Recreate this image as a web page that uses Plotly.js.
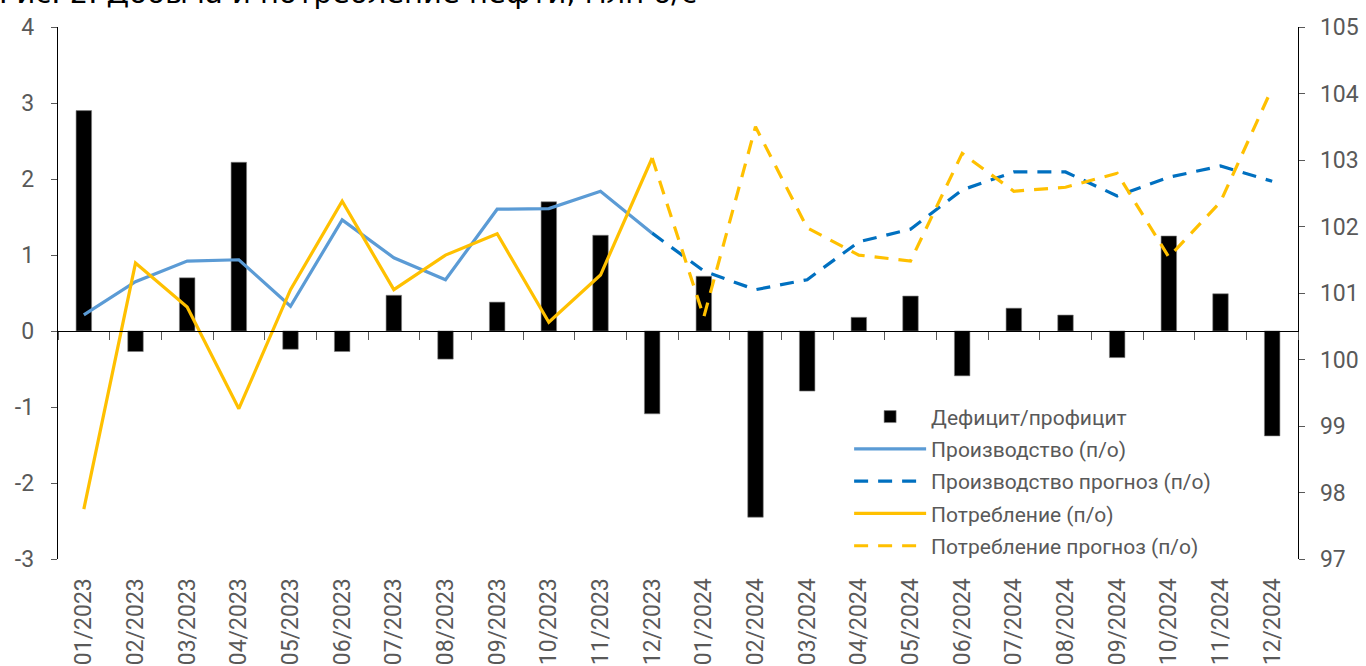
<!DOCTYPE html>
<html>
<head>
<meta charset="utf-8">
<script src="https://cdn.plot.ly/plotly-3.0.1.min.js"></script>
<style>html,body{margin:0;padding:0;background:#fff;}#chart{width:1366px;height:666px;}</style>
</head>
<body>
<div id="chart"></div>
<script>
const months = ["01/2023","02/2023","03/2023","04/2023","05/2023","06/2023","07/2023","08/2023","09/2023","10/2023","11/2023","12/2023",
                "01/2024","02/2024","03/2024","04/2024","05/2024","06/2024","07/2024","08/2024","09/2024","10/2024","11/2024","12/2024"];
const balance = [2.9,-0.27,0.70,2.22,-0.24,-0.27,0.47,-0.37,0.38,1.70,1.26,-1.09,
                 0.72,-2.45,-0.79,0.18,0.46,-0.59,0.30,0.21,-0.35,1.25,0.49,-1.38];
const production = [100.67,101.17,101.48,101.50,100.80,102.10,101.53,101.20,102.26,102.27,102.53,101.90,
                    null,null,null,null,null,null,null,null,null,null,null,null];
const productionForecast = [null,null,null,null,null,null,null,null,null,null,null,101.90,
                    101.33,101.05,101.20,101.77,101.96,102.55,102.82,102.82,102.46,102.74,102.91,102.68];
const consumption = [97.75,101.45,100.79,99.26,101.05,102.38,101.05,101.57,101.89,100.56,101.27,103.03,
                    null,null,null,null,null,null,null,null,null,null,null,null];
const consumptionForecast = [null,null,null,null,null,null,null,null,null,null,null,103.03,
                    100.64,103.50,101.98,101.57,101.48,103.10,102.53,102.59,102.80,101.54,102.37,104.08];
const names = ["Дефицит/профицит","Производство (п/о)","Производство прогноз (п/о)","Потребление (п/о)","Потребление прогноз (п/о)"];
const leftTicks = [-3,-2,-1,0,1,2,3,4];
const leftTickText = ["-3","-2","-1","0","1","2","3","4"];
const rightTicks = [97,98,99,100,101,102,103,104,105];
const titleText = "Рис. 2. Добыча и потребление нефти, млн б/с";

const FONT = "Roboto, 'Noto Sans', sans-serif";
const GREY = "#595959";

const traces = [
  {type:"bar", x:months, y:balance, name:names[0], legendgroup:"g0", xaxis:"x2", yaxis:"y",
   marker:{color:"#000000", line:{color:"#7f7f7f", width:0.6}}, width:0.3},
  {type:"scatter", mode:"lines", x:months, y:production, name:names[1], legendgroup:"g1", xaxis:"x2", yaxis:"y2",
   line:{color:"#5B9BD5", width:3.2}},
  {type:"scatter", mode:"lines", x:months, y:productionForecast, name:names[2], legendgroup:"g2", xaxis:"x2", yaxis:"y2",
   line:{color:"#0070C0", width:3.2, dash:"14px,10px"}},
  {type:"scatter", mode:"lines", x:months, y:consumption, name:names[3], legendgroup:"g3", xaxis:"x2", yaxis:"y2",
   line:{color:"#FFC000", width:3.2}},
  {type:"scatter", mode:"lines", x:months, y:consumptionForecast, name:names[4], legendgroup:"g4", xaxis:"x2", yaxis:"y2",
   line:{color:"#FFC000", width:3.2, dash:"14px,10px"}},
  {type:"scatter", mode:"lines", x:months, y:months.map(()=>null), xaxis:"x", yaxis:"y",
   showlegend:false, hoverinfo:"skip"}
];

const layout = {
  width:1366, height:666,
  paper_bgcolor:"#fff", plot_bgcolor:"#fff",
  margin:{l:58, r:68, t:27, b:107, pad:0},
  font:{family:FONT, size:21, color:GREY},
  annotations:[{text:titleText, xref:"paper", yref:"paper", x:-0.049, y:1.063, xanchor:"left", yanchor:"middle",
                showarrow:false, font:{family:"'DejaVu Sans', sans-serif", size:29, color:"#000"}}],
  showlegend:true,
  legend:{x:0.638, y:0.3056, xanchor:"left", yanchor:"top", bgcolor:"rgba(255,255,255,0)",
          font:{family:FONT, size:21, color:GREY}, tracegroupgap:2, itemwidth:72, traceorder:"grouped"},
  bargap:0.7,
  xaxis:{type:"category", categoryorder:"array", categoryarray:months, range:[-0.5,23.5],
         showline:false, showgrid:false, zeroline:false, ticks:"outside", ticklen:9, tickcolor:"rgba(0,0,0,0)",
         tickangle:-90, tickfont:{family:FONT, size:23, color:GREY}, anchor:"y", side:"bottom"},
  xaxis2:{type:"category", categoryorder:"array", categoryarray:months, range:[-0.5,23.5], overlaying:"x",
          anchor:"free", position:3/7, showline:true, linecolor:"#000", linewidth:1.3,
          ticks:"outside", tickson:"boundaries", ticklen:8, tickcolor:"#595959", tickwidth:1,
          showticklabels:false, showgrid:false, zeroline:false},
  yaxis:{range:[-3,4], tickvals:leftTicks, ticktext:leftTickText, showline:true, linecolor:"#000", linewidth:1.3, ticks:"outside", ticklen:6,
         tickcolor:"#595959", showgrid:false, zeroline:false, tickfont:{family:FONT, size:23, color:GREY},
         ticklabelstandoff:12},
  yaxis2:{range:[97,105], tickvals:rightTicks, overlaying:"y", side:"right", anchor:"x", showline:true, linecolor:"#000", linewidth:1.3,
          ticks:"outside", ticklen:6, tickcolor:"#595959", showgrid:false, zeroline:false,
          tickfont:{family:FONT, size:23, color:GREY}, ticklabelstandoff:10}
};

Plotly.newPlot("chart", traces, layout, {staticPlot:true, displayModeBar:false});
</script>
</body>
</html>
